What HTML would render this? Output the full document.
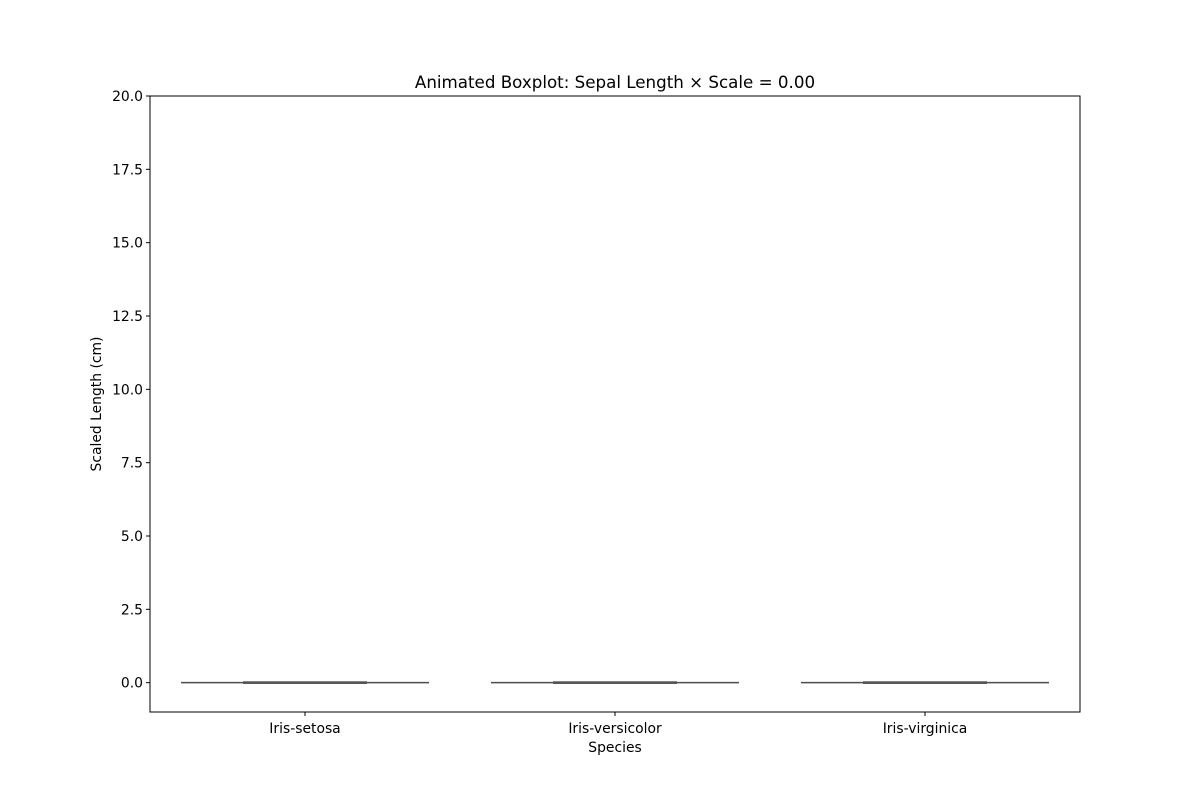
<!DOCTYPE html>
<html><head><meta charset="utf-8"><style>body{margin:0;background:#fff}svg{display:block;font-family:"DejaVu Sans","Liberation Sans",sans-serif}</style></head>
<body>
<svg id="chart" width="1200" height="800">
<rect x="0" y="0" width="1200" height="800" fill="#fff"/>
<text x="615" y="88" text-anchor="middle" font-size="16.7">Animated Boxplot: Sepal Length × Scale = 0.00</text>
<g id="yticks"></g><g id="xticks"></g><g id="boxes"></g>
<rect x="150" y="96" width="930" height="616" fill="none" stroke="#000" stroke-width="1"/>
<text x="615" y="752" text-anchor="middle" font-size="13.9">Species</text>
<text transform="translate(101,404) rotate(-90)" text-anchor="middle" font-size="13.9">Scaled Length (cm)</text>
</svg>
<script>
const categories=["Iris-setosa","Iris-versicolor","Iris-virginica"];
const mins=[0,0,0];
const q1s=[0,0,0];
const medians=[0,0,0];
const q3s=[0,0,0];
const maxs=[0,0,0];
const yTicks=[0,2.5,5,7.5,10,12.5,15,17.5,20];
const yMin=-1,yMax=20,L=150,R=1080,T=96,B=712;
const ns="http://www.w3.org/2000/svg";
function y(v){return B-(v-yMin)/(yMax-yMin)*(B-T);}
const band=(R-L)/categories.length;
function x(i){return L+band*(i+0.5);}
function mk(t,a,p){const e=document.createElementNS(ns,t);for(const k in a)e.setAttribute(k,a[k]);p.appendChild(e);return e;}
const yg=document.getElementById('yticks'),xg=document.getElementById('xticks'),bg=document.getElementById('boxes');
yTicks.forEach(v=>{
 const l=mk('line',{x1:L-4,x2:L,y1:y(v),y2:y(v),stroke:'#000'},yg);
 
 
 const t=mk('text',{x:L-7,y:y(v)+5,'text-anchor':'end','font-size':13.9},yg);t.textContent=v.toFixed(1);
 
 
});
categories.forEach((c,i)=>{
 const cx=x(i);
 const l=mk('line',{x1:cx,x2:cx,y1:B,y2:B+4,stroke:'#000'},xg);
 
 
 const t=mk('text',{x:cx,y:B+21,'text-anchor':'middle','font-size':13.9},xg);t.textContent=c;
 
 
 const g=mk('g',{},bg);
 
 
 const w=band*0.8,c0='#4d4d4d';
 mk('rect',{x:cx-w/2,y:y(q3s[i]),width:w,height:Math.max(0,y(q1s[i])-y(q3s[i])),fill:'#5b8fc4',stroke:c0,'stroke-width':1.5},g);
 mk('line',{x1:cx-w/2,x2:cx+w/2,y1:y(medians[i]),y2:y(medians[i]),stroke:c0,'stroke-width':1.5},g);
 mk('line',{x1:cx,x2:cx,y1:y(q1s[i]),y2:y(mins[i]),stroke:c0,'stroke-width':1.5},g);
 mk('line',{x1:cx,x2:cx,y1:y(q3s[i]),y2:y(maxs[i]),stroke:c0,'stroke-width':1.5},g);
 mk('line',{x1:cx-w/4,x2:cx+w/4,y1:y(mins[i]),y2:y(mins[i]),stroke:'#555','stroke-width':2.5},g);
 mk('line',{x1:cx-w/4,x2:cx+w/4,y1:y(maxs[i]),y2:y(maxs[i]),stroke:'#555','stroke-width':2.5},g);
});
</script>
</body></html>
